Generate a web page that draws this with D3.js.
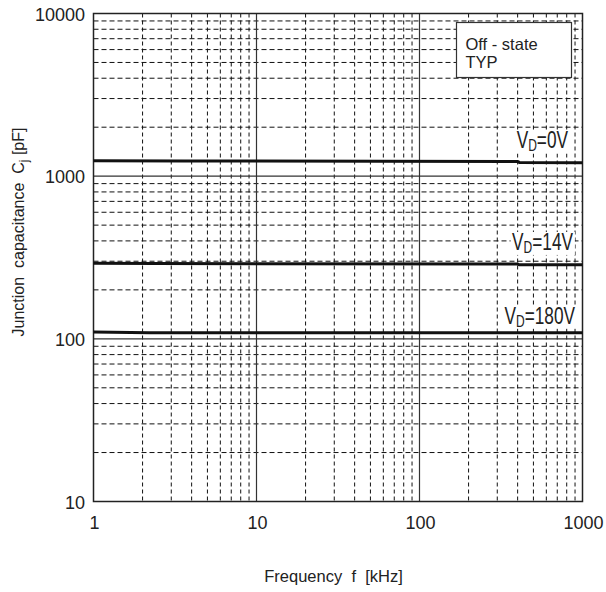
<!DOCTYPE html>
<html>
<head>
<meta charset="utf-8">
<script src="https://cdn.jsdelivr.net/npm/d3@7"></script>
<style>
  body { margin: 0; background: #fff; }
  text { font-family: Arial, "Liberation Sans", sans-serif; fill: #222; }
</style>
</head>
<body>
<div id="chart"></div>
<script>
// Data
const xTicks = [1, 10, 100, 1000];
const yTicks = [10, 100, 1000, 10000];

const freq0V = [1, 3.6, 400, 410, 1000];
const cap0V = [1245, 1240, 1232, 1215, 1210];

const freq14V = [1, 2.4, 400, 410, 1000];
const cap14V = [292, 290, 288, 285, 285];

const freq180V = [1, 2.2, 100, 1000];
const cap180V = [110, 109, 109, 109];

const labels = ["0V", "14V", "180V"];
const labelCaps = [1480, 352, 124];     // where each label's baseline sits
const labelRight = [568, 573, 575];      // right edge, page px

const W = 606, H = 592;
const margin = { top: 13.5, right: 23.5, bottom: 90.5, left: 93.5 };
const width = W - margin.left - margin.right;
const height = H - margin.top - margin.bottom;

const svg = d3.select("#chart").append("svg")
    .attr("width", W)
    .attr("height", H);

const g = svg.append("g")
    .attr("transform", `translate(${margin.left},${margin.top})`);

const x = d3.scaleLog().domain([1, 1000]).range([0, width]);
const y = d3.scaleLog().domain([10, 10000]).range([height, 0]);

// minor grid values 2..9 for each decade
const minorX = [];
[1, 10, 100].forEach(d => { for (let k = 2; k <= 9; k++) minorX.push(d * k); });
const minorY = [];
[10, 100, 1000].forEach(d => { for (let k = 2; k <= 9; k++) minorY.push(d * k); });

g.append("g").selectAll("line")
    .data(minorY)
    .join("line")
    .attr("x1", 0).attr("x2", width)
    .attr("y1", d => y(d)).attr("y2", d => y(d))
    .attr("stroke", "#111")
    .attr("stroke-width", 1)
    .attr("stroke-dasharray", "5,3");

g.append("g").selectAll("line")
    .data(minorX)
    .join("line")
    .attr("x1", d => x(d)).attr("x2", d => x(d))
    .attr("y1", 0).attr("y2", height)
    .attr("stroke", "#111")
    .attr("stroke-width", 1)
    .attr("stroke-dasharray", "4,3");

// decade lines
g.append("g").selectAll("line")
    .data([10, 100])
    .join("line")
    .attr("x1", d => x(d)).attr("x2", d => x(d))
    .attr("y1", 0).attr("y2", height)
    .attr("stroke", "#333").attr("stroke-width", 1.2);

g.append("g").selectAll("line")
    .data([100, 1000])
    .join("line")
    .attr("x1", 0).attr("x2", width)
    .attr("y1", d => y(d)).attr("y2", d => y(d))
    .attr("stroke", "#333").attr("stroke-width", 1.2);

// frame
g.append("rect")
    .attr("width", width).attr("height", height)
    .attr("fill", "none").attr("stroke", "#222").attr("stroke-width", 1.5);

// curve labels (condensed) with white background, drawn under the curves
const sx = 0.75;
labels.forEach((lab, i) => {
    const lx = labelRight[i] - margin.left;
    const ly = y(labelCaps[i]);
    const grp = g.append("g").attr("transform", `translate(${lx},${ly}) scale(${sx},1)`);
    const t = grp.append("text")
        .attr("x", 0).attr("y", 0)
        .attr("text-anchor", "end")
        .style("font-size", "23px");
    t.append("tspan").text("V");
    t.append("tspan").attr("dy", 3).style("font-size", "16px").text("D");
    t.append("tspan").attr("dy", -3).text("=" + lab);
    const bb = t.node().getBBox();
    grp.insert("rect", "text")
        .attr("x", bb.x - 2).attr("y", -18)
        .attr("width", bb.width + 4).attr("height", 23)
        .attr("fill", "#fff");
});

// curves
const line = d3.line().x(d => x(d[0])).y(d => y(d[1]));
const curves = [
    d3.zip(freq0V, cap0V),
    d3.zip(freq14V, cap14V),
    d3.zip(freq180V, cap180V)
];
g.append("g").selectAll("path")
    .data(curves)
    .join("path")
    .attr("d", line)
    .attr("fill", "none")
    .attr("stroke", "#111")
    .attr("stroke-width", 3);

// legend box
const lg = g.append("g").attr("transform", `translate(${width - 126},${9})`);
lg.append("rect")
    .attr("width", 115).attr("height", 55)
    .attr("fill", "#fff").attr("stroke", "#333").attr("stroke-width", 1.2);
lg.append("text").attr("x", 9).attr("y", 27.5).style("font-size", "16.5px").text("Off - state");
lg.append("text").attr("x", 9).attr("y", 45.5).style("font-size", "16.5px").text("TYP");

// tick labels
g.append("g").selectAll("text")
    .data(yTicks)
    .join("text")
    .attr("x", -8.5)
    .attr("y", d => y(d) + 7)
    .attr("text-anchor", "end")
    .style("font-size", "18px")
    .text(d => d);

g.append("g").selectAll("text")
    .data(xTicks)
    .join("text")
    .attr("x", d => x(d) + 1)
    .attr("y", height + 27)
    .attr("text-anchor", "middle")
    .style("font-size", "18px")
    .text(d => d);

// axis titles
g.append("text")
    .attr("x", 333.5 - margin.left)
    .attr("y", 581.5 - margin.top)
    .attr("text-anchor", "middle")
    .style("font-size", "16.5px")
    .attr("xml:space", "preserve")
    .text("Frequency  f  [kHz]");

const yt = g.append("text")
    .attr("transform", `translate(${24 - margin.left},${232 - margin.top}) rotate(-90)`)
    .attr("text-anchor", "middle")
    .style("font-size", "16px")
    .attr("xml:space", "preserve");
yt.append("tspan").text("Junction  capacitance  C");
yt.append("tspan").attr("dy", 4).style("font-size", "12px").text("j");
yt.append("tspan").attr("dy", -4).text(" [pF]");
</script>
</body>
</html>
